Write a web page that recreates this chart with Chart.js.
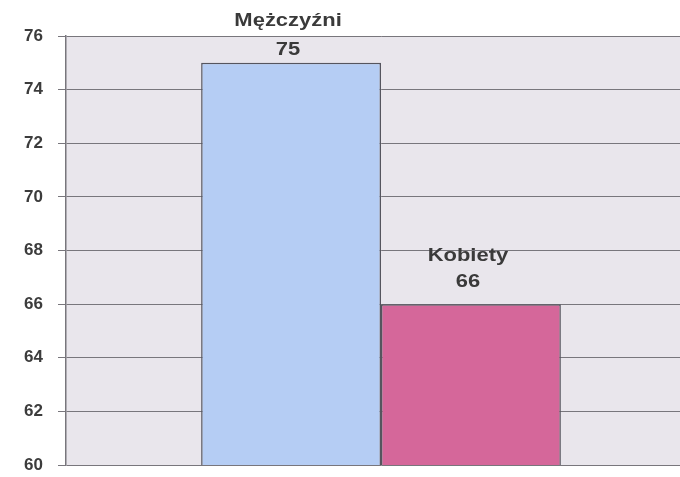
<!DOCTYPE html>
<html>
<head>
<meta charset="utf-8">
<script src="https://cdn.jsdelivr.net/npm/chart.js@4"></script>
<style>
  html, body { margin: 0; padding: 0; background: #fff; overflow: hidden; }
  #wrap { width: 696px; height: 477px; }
</style>
</head>
<body>
<div id="wrap"><canvas id="c"></canvas></div>
<script>
const serie = ['Mężczyźni', 'Kobiety'];
const wartosci = [75, 66];
const kolory = ['#b5cdf4', '#d5679a'];
const yTicks = [60, 62, 64, 66, 68, 70, 72, 74, 76];

// tlo obszaru wykresu
const tloPlugin = {
    id: 'tlo',
    beforeDraw(chart) {
        const { ctx, chartArea: a } = chart;
        ctx.save();
        ctx.fillStyle = '#e9e6ec';
        ctx.fillRect(a.left, a.top, a.right - a.left, a.bottom - a.top);
        ctx.restore();
    }
};

// etykiety nad slupkami: nazwa + wartosc (tekst lekko rozciagniety w poziomie)
const przesuniecia = [[-42, -13], [-48, -22]];
const etykietyPlugin = {
    id: 'etykiety',
    afterDatasetsDraw(chart) {
        const { ctx } = chart;
        const sx = 1.22;
        chart.data.datasets.forEach((ds, i) => {
            const bar = chart.getDatasetMeta(i).data[0];
            ctx.save();
            ctx.font = 'bold 18px "Liberation Sans", Arial, sans-serif';
            ctx.fillStyle = '#3a3a3a';
            ctx.textAlign = 'center';
            ctx.textBaseline = 'middle';
            ctx.translate(bar.x - 3, 0);
            ctx.scale(sx, 1);
            ctx.fillText(ds.label, 0, bar.y + przesuniecia[i][0]);
            ctx.fillText(String(ds.data[0]), 0, bar.y + przesuniecia[i][1]);
            ctx.restore();
        });
    }
};

new Chart(document.getElementById('c'), {
    type: 'bar',
    data: {
        labels: [''],
        datasets: serie.map((s, i) => ({
            label: s,
            data: [wartosci[i]],
            backgroundColor: kolory[i],
            borderColor: '#55555e',
            borderWidth: 1.5,
            borderSkipped: false,
            barPercentage: 1,
            categoryPercentage: 0.571
        }))
    },
    options: {
        responsive: true,
        maintainAspectRatio: false,
        animation: false,
        layout: { padding: { top: 36, bottom: 12, right: 0, left: 0 } },
        plugins: { legend: { display: false }, tooltip: { enabled: false } },
        scales: {
            x: {
                display: false,
                grid: { display: false }
            },
            y: {
                min: 60,
                max: 76,
                afterFit: s => { s.width = 66; s.paddingTop = 0; s.paddingBottom = 0; },
                afterBuildTicks: s => { s.ticks = yTicks.map(v => ({ value: v })); },
                ticks: {
                    padding: 15,
                    color: '#3c3c3c',
                    font: { family: '"Liberation Sans", Arial, sans-serif', size: 17, weight: 'bold' }
                },
                grid: { color: '#78767c', lineWidth: 1, tickLength: 8 },
                border: { color: '#78767c', width: 1.5 }
            }
        }
    },
    plugins: [tloPlugin, etykietyPlugin]
});
</script>
</body>
</html>
